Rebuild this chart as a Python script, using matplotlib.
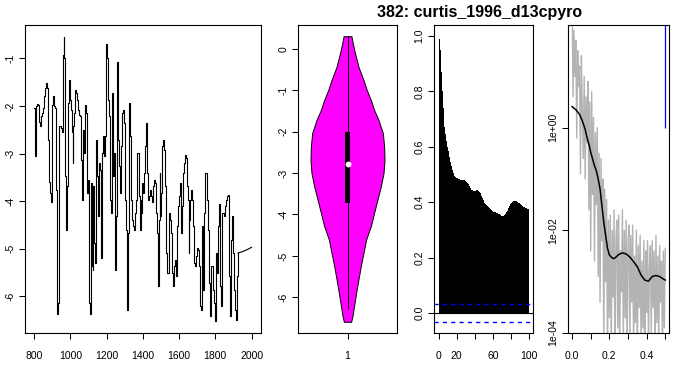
import numpy as np
import matplotlib
matplotlib.use("Agg")
import matplotlib.pyplot as plt

plt.rcParams['font.family'] = ['Liberation Sans', 'DejaVu Sans']
plt.rcParams['axes.unicode_minus'] = False

# --- time series (5-year steps + the flat tail) ---
years = list(range(800, 1926, 5)) + [1950, 1975, 2000]
d13c = [
    # 800-895
    -2.05, -2.75, -3.06, -2.01, -1.97, -1.98, -2.33, -2.43, -2.22, -2.15,
    -2.05, -1.87, -1.80, -1.63, -1.52, -1.63, -2.71, -3.59, -3.83, -4.01,
    # 900-995
    -1.98, -1.80, -1.94, -2.01, -2.05, -3.76, -6.38, -6.14, -2.43, -2.43,
    -2.47, -2.54, -0.93, -0.55, -1.00, -3.48, -4.60, -3.69, -1.94, -1.45,
    # 1000-1095
    -1.87, -2.08, -2.54, -3.20, -2.43, -2.15, -1.66, -1.73, -1.87, -2.08,
    -2.19, -2.22, -3.13, -3.97, -2.71, -2.50, -2.99, -1.98, -2.15, -3.83,
    # 1100-1195
    -3.55, -6.14, -6.38, -3.62, -5.37, -5.44, -3.69, -4.88, -5.30, -2.71,
    -3.48, -4.32, -3.20, -3.34, -5.20, -3.55, -2.99, -2.64, -3.06, -2.64,
    # 1200-1295
    -0.69, -1.00, -1.87, -2.22, -3.97, -4.25, -2.85, -1.73, -3.48, -2.99,
    -5.44, -4.32, -1.07, -2.71, -3.27, -3.83, -2.85, -2.71, -2.15, -2.08,
    # 1300-1395
    -2.36, -3.97, -4.60, -6.28, -4.67, -1.94, -2.64, -3.41, -3.97, -4.39,
    -4.53, -4.60, -4.25, -3.97, -2.99, -2.99, -3.90, -4.60, -3.97, -4.25,
    # 1400-1495
    -3.62, -3.83, -3.41, -2.85, -2.36, -3.41, -3.97, -3.90, -3.76, -3.83,
    -3.90, -4.01, -3.69, -3.55, -3.62, -4.25, -4.67, -5.79, -4.39, -3.41,
    # 1500-1595
    -4.32, -3.83, -2.85, -2.71, -2.92, -3.69, -5.09, -5.51, -5.51, -4.25,
    -4.32, -4.39, -4.67, -5.51, -5.79, -5.37, -5.23, -5.58, -4.53, -4.11,
    # 1600-1695
    -3.90, -3.69, -3.62, -4.67, -4.11, -3.41, -3.20, -3.03, -3.10, -3.69,
    -3.97, -5.09, -4.39, -3.97, -3.76, -3.97, -4.53, -5.30, -5.37, -5.16,
    # 1700-1795
    -4.99, -5.02, -5.02, -5.37, -6.21, -6.28, -4.53, -5.86, -4.25, -3.41,
    -3.41, -3.97, -4.60, -5.51, -5.72, -6.42, -5.37, -5.37, -5.86, -6.14,
    # 1800-1895
    -6.52, -5.09, -5.51, -5.23, -4.53, -4.05, -5.79, -6.21, -4.25, -4.25,
    -4.32, -4.11, -3.97, -3.90, -3.90, -3.87, -5.58, -6.42, -4.81, -4.32,
    # 1900-1925
    -5.09, -5.86, -6.28, -6.49, -5.58, -5.09,
    # tail
    -5.06, -5.02, -4.97,
]
n_tail = 3  # sparse points at the end, drawn as a plain line

# --- violin outline (half widths) and box stats ---
vio_y = [0.30, 0.12, -0.12, -0.44, -0.76, -1.00, -1.24, -1.48, -1.72, -2.04,
         -2.36, -2.68, -3.00, -3.32, -3.64, -3.96, -4.28, -4.60, -4.92, -5.24,
         -5.56, -5.88, -6.20, -6.44, -6.59]
vio_hw = [0.040, 0.054, 0.077, 0.111, 0.162, 0.195, 0.236, 0.269, 0.313, 0.357,
          0.370, 0.374, 0.364, 0.337, 0.303, 0.269, 0.236, 0.189, 0.162, 0.135,
          0.111, 0.088, 0.067, 0.051, 0.037]
q1, q3 = -3.72, -2.02
med = -2.78
whisk_lo, whisk_hi = -6.28, 0.30

# --- autocorrelation, lags 0..100 ---
acf_vals = [
    1.00, 0.99, 0.95, 0.87, 0.80, 0.74, 0.70, 0.67, 0.645, 0.62,
    0.60, 0.585, 0.565, 0.545, 0.53, 0.518, 0.507, 0.500, 0.495, 0.491,
    0.489, 0.487, 0.485, 0.483, 0.482, 0.481, 0.481, 0.480, 0.480, 0.480,
    0.477, 0.473, 0.470, 0.465, 0.458, 0.451, 0.446, 0.443, 0.441, 0.441,
    0.442, 0.442, 0.443, 0.443, 0.441, 0.438, 0.432, 0.424, 0.416, 0.409,
    0.403, 0.397, 0.392, 0.389, 0.386, 0.383, 0.380, 0.377, 0.373, 0.369,
    0.367, 0.366, 0.365, 0.364, 0.363, 0.361, 0.358, 0.356, 0.353, 0.351,
    0.349, 0.349, 0.350, 0.354, 0.358, 0.364, 0.370, 0.378, 0.386, 0.392,
    0.397, 0.400, 0.402, 0.403, 0.403, 0.403, 0.403, 0.402, 0.399, 0.396,
    0.393, 0.390, 0.388, 0.386, 0.384, 0.382, 0.380, 0.379, 0.377, 0.374,
    0.370,
]
lags = list(range(len(acf_vals)))
ci = 0.032

# --- spectrum: raw (log10) and smoothed (log10) ---
raw_freq = [i * 0.005 for i in range(101)]
raw_log = [
    2.5, 0.6, 1.9, 1.0, 1.7, -0.2, 1.5, 0.8, 1.2, -0.9,
    1.4, 0.3, -0.6, 1.0, -1.0, 0.6, -0.3, 0.9, -1.6, 0.5,
    -2.4, 0.7, -1.3, 0.2, -2.6, -0.1, -1.5, 0.0, -2.9, -0.5,
    -3.4, -0.6, -2.2, -1.0, -4.3, -1.2, -3.0, -1.4, -4.6, -1.8,
    -3.7, -1.7, -4.4, -2.0, -3.3, -1.6, -4.8, -2.2, -1.8, -3.9,
    -1.7, -4.5, -2.4, -3.2, -1.6, -4.2, -2.0, -3.7, -1.8, -4.6,
    -2.3, -1.9, -4.1, -2.1, -3.4, -1.9, -4.4, -2.5, -3.8, -2.0,
    -4.7, -2.3, -3.5, -2.1, -4.2, -2.6, -3.9, -2.2, -4.9, -2.4,
    -3.6, -2.2, -4.3, -2.7, -2.3, -4.0, -2.2, -3.5, -2.4, -4.6,
    -2.1, -3.8, -2.5, -4.2, -2.3, -3.4, -2.6, -4.4, -2.4, -3.9,
    -2.35,
]
smooth_freq = [0.0, 0.02, 0.04, 0.055, 0.07, 0.08, 0.09, 0.10, 0.11, 0.12,
               0.13, 0.14, 0.15, 0.16, 0.17, 0.18, 0.19, 0.20, 0.21, 0.22,
               0.23, 0.25, 0.27, 0.29, 0.31, 0.33, 0.35, 0.37, 0.39, 0.41,
               0.43, 0.45, 0.47, 0.49, 0.50]
smooth_log = [0.41, 0.35, 0.26, 0.13, -0.03, -0.19, -0.32, -0.48, -0.61, -0.74,
              -0.84, -1.00, -1.19, -1.52, -1.84, -2.10, -2.35, -2.48, -2.52, -2.55,
              -2.54, -2.47, -2.44, -2.46, -2.52, -2.61, -2.71, -2.87, -2.97, -2.99,
              -2.90, -2.88, -2.90, -2.95, -2.97]

W, H = 681, 371
fig = plt.figure(figsize=(W / 100, H / 100), dpi=100)


def make_ax(x0, x1, y0=25, y1=333):
    ax = fig.add_axes([x0 / W, (H - y1) / H, (x1 - x0) / W, (y1 - y0) / H])
    for s in ax.spines.values():
        s.set_linewidth(0.8)
    ax.tick_params(direction='out', length=4.4, width=0.75, labelsize=7.5)
    ax.tick_params(axis='x', pad=8.5)
    ax.tick_params(axis='y', pad=2.4, labelrotation=90)
    return ax


def fix_ylabels(ax):
    for lab in ax.get_yticklabels():
        lab.set_va('center')


# panel 1: time series
ax1 = make_ax(25, 261)
ax1.plot(years[:-n_tail], d13c[:-n_tail], color='black', lw=0.8, drawstyle='steps-mid')
ax1.plot(years[-n_tail - 1:], d13c[-n_tail - 1:], color='black', lw=0.8)
ax1.set_xlim(750, 2052)
ax1.set_ylim(-6.77, -0.30)
ax1.set_xticks(range(800, 2001, 200))
ax1.set_yticks([-1, -2, -3, -4, -5, -6])
ax1.set_yticklabels(['-1', '-2', '-3', '-4', '-5', '-6'])
fix_ylabels(ax1)

# panel 2: violin
ax2 = make_ax(298, 397)
vy = np.array(vio_y)
vh = np.array(vio_hw)
ax2.fill_betweenx(vy, 1 - vh, 1 + vh, facecolor='#FF00FF', edgecolor='black', lw=0.7)
ax2.vlines(1, whisk_lo, whisk_hi, color='black', lw=0.75)
ax2.bar([1], [q3 - q1], bottom=q1, width=0.055, color='black')
ax2.plot([1], [med], 'o', color='white', ms=3.2, mec='white')
ax2.set_xlim(0.5, 1.5)
ax2.set_ylim(-6.86, 0.57)
ax2.set_xticks([1])
ax2.set_xticklabels(['1'])
ax2.set_yticks([0, -1, -2, -3, -4, -5, -6])
ax2.set_yticklabels(['0', '-1', '-2', '-3', '-4', '-5', '-6'])
fix_ylabels(ax2)

# panel 3: acf
ax3 = make_ax(434, 533)
ax3.fill_between(lags, 0, acf_vals, step='mid', color='black', lw=0)
ax3.axhline(0, color='black', lw=0.8)
for c in (ci, -ci):
    ax3.axhline(c, color='blue', lw=1.0, dashes=(3, 3))
ax3.set_xlim(-5, 104)
ax3.set_ylim(-0.072, 1.04)
ax3.set_xticks([0, 20, 40, 60, 80, 100])
ax3.set_xticklabels(['0', '20', '', '60', '', '100'])
ax3.set_yticks([0, 0.2, 0.4, 0.6, 0.8, 1.0])
ax3.set_yticklabels(['0.0', '0.2', '0.4', '0.6', '0.8', '1.0'])
fix_ylabels(ax3)

# panel 4: spectrum
ax4 = make_ax(568, 669)
ax4.set_yscale('log')
ax4.plot(raw_freq, 10 ** np.array(raw_log), color='#B3B3B3', lw=1.0)
ax4.plot(smooth_freq, 10 ** np.array(smooth_log), color='black', lw=1.1)
ax4.vlines(0.5, 1, 1e3, color='blue', lw=0.9)
ax4.set_xlim(-0.022, 0.52)
ax4.set_ylim(1e-4, 1e2)
ax4.minorticks_off()
ax4.set_xticks([0, 0.1, 0.2, 0.3, 0.4, 0.5])
ax4.set_xticklabels(['0.0', '', '0.2', '', '0.4', ''])
ax4.set_yticks([1e-4, 1e-2, 1])
ax4.set_yticklabels(['1e-04', '1e-02', '1e+00'])
fix_ylabels(ax4)

fig.text(480 / W, 1 - 12 / H, '382: curtis_1996_d13cpyro', fontsize=11.5,
         fontweight='bold', ha='center', va='center')

fig.savefig('out.png', dpi=100)
